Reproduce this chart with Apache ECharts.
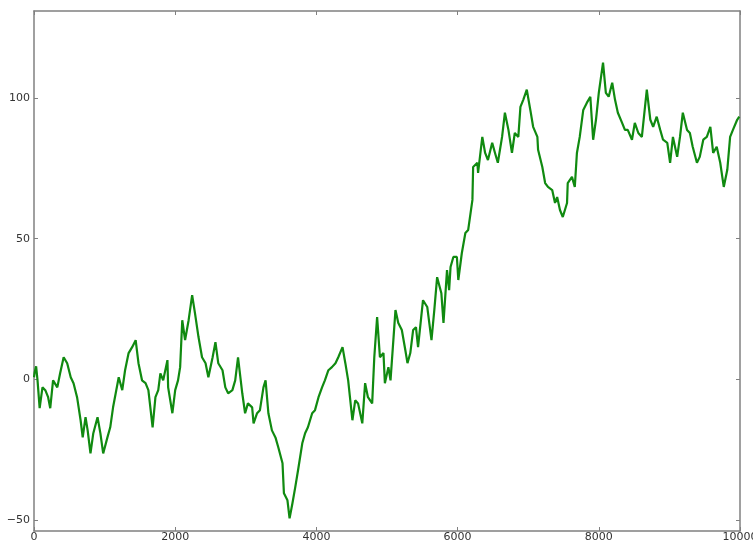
<!DOCTYPE html>
<html>
<head>
<meta charset="utf-8">
<script src="https://cdn.jsdelivr.net/npm/echarts@6/dist/echarts.min.js"></script>
<style>
  html, body { margin: 0; padding: 0; background: #fff; }
  #chart { width: 753px; height: 543px; }
</style>
</head>
<body>
<div id="chart"></div>
<script>
// Step index of the walk
const steps = [0,10,30,50,80,120,160,200,230,270,330,370,420,470,520,560,610,660,690,730,760,800,840,900,940,980,1040,1080,1120,1200,1250,1290,1340,1390,1440,1480,1530,1580,1620,1680,1720,1760,1790,1830,1890,1900,1960,2000,2040,2070,2100,2140,2190,2240,2280,2330,2380,2430,2470,2530,2570,2610,2670,2710,2750,2810,2850,2890,2950,2990,3030,3090,3110,3160,3200,3250,3280,3320,3370,3420,3460,3520,3540,3590,3620,3660,3700,3740,3800,3840,3880,3940,3980,4030,4080,4120,4170,4220,4270,4310,4370,4410,4450,4510,4550,4590,4650,4690,4730,4790,4820,4860,4900,4950,4970,5020,5050,5120,5160,5210,5260,5290,5330,5370,5410,5440,5510,5570,5630,5670,5710,5770,5800,5850,5880,5900,5940,5990,6010,6060,6110,6150,6210,6220,6280,6290,6350,6390,6430,6490,6530,6570,6630,6670,6720,6770,6810,6860,6890,6930,6980,7030,7070,7130,7140,7200,7240,7280,7340,7380,7410,7450,7490,7550,7560,7620,7660,7690,7730,7780,7830,7880,7920,7960,8000,8060,8100,8140,8190,8230,8270,8330,8370,8410,8470,8510,8560,8610,8680,8730,8770,8820,8870,8910,8970,9010,9050,9110,9150,9190,9250,9290,9330,9390,9430,9480,9530,9580,9620,9670,9720,9770,9820,9860,9900,9960,9990];

// Position of the walk at each step
const walk = [0.7,2.5,4.6,-0.4,-10.3,-2.9,-3.9,-6.4,-10.3,-0.4,-2.9,2.1,7.8,5.7,0.7,-1.4,-6.4,-14.6,-20.7,-13.5,-18.2,-26.4,-19.2,-13.5,-19.2,-26.4,-20.7,-17.1,-10.0,0.7,-3.9,3.2,9.3,11.4,13.9,5.7,-0.4,-1.4,-3.9,-17.1,-6.4,-3.9,2.1,-0.4,6.8,-2.9,-12.1,-3.9,-0.4,4.3,21.0,13.9,21.0,29.9,23.5,15.0,7.8,5.7,0.7,7.8,13.2,5.7,3.2,-2.9,-5.0,-3.9,-0.4,7.8,-5.0,-12.1,-8.6,-10.0,-15.7,-12.1,-11.0,-2.9,-0.4,-12.1,-18.2,-20.7,-24.2,-29.9,-40.6,-43.1,-49.5,-44.2,-38.5,-32.4,-22.8,-19.2,-17.1,-12.1,-11.0,-6.4,-2.9,-0.4,3.2,4.3,5.7,7.8,11.4,5.7,-0.4,-14.6,-7.5,-8.6,-15.7,-1.4,-6.4,-8.6,7.8,22.1,7.8,9.3,-1.4,4.3,-0.4,24.6,20.0,17.5,10.3,5.7,9.3,17.5,18.5,11.4,28.1,25.7,13.9,24.6,36.3,30.6,20.0,38.8,31.7,39.9,43.5,43.5,35.3,44.9,52.0,53.1,63.8,75.5,77.0,73.4,86.2,80.5,78.0,84.1,80.5,77.0,86.2,94.8,88.7,80.5,87.6,86.2,96.9,99.4,103.0,95.8,89.8,86.2,81.6,75.5,69.8,68.4,67.3,62.7,64.8,60.2,57.7,62.7,69.8,72.0,68.4,80.5,86.2,95.8,98.3,100.5,85.2,92.3,101.9,112.6,101.9,100.5,105.5,99.4,94.8,91.2,88.7,88.7,85.2,91.2,87.6,86.2,103.0,92.3,89.8,93.4,88.7,85.2,84.1,77.0,86.2,79.1,86.2,94.8,88.7,87.6,82.7,77.0,79.1,85.2,86.2,89.8,80.5,82.7,77.0,68.4,74.5,86.2,88.7,92.3,93.4];

const xTicks = [0, 2000, 4000, 6000, 8000, 10000];
const yTicks = [-50, 0, 50, 100];

const spine = '#808080';
const textStyle = { color: '#333', fontFamily: 'DejaVu Sans', fontSize: 11 };
const fmtX = v => String(v);
const fmtY = v => (v < 0 ? '\u2212' + Math.abs(v) : String(v));

const tickIn = { show: true, inside: true, length: 4, lineStyle: { color: spine } };

const chart = echarts.init(document.getElementById('chart'), null, { renderer: 'canvas' });
chart.setOption({
  animation: false,
  backgroundColor: '#fff',
  grid: { left: 34, right: 13, top: 11, bottom: 12, containLabel: false, outerBoundsMode: 'none' },
  xAxis: [
    {
      type: 'value', min: 0, max: 10000, interval: 2000, position: 'bottom',
      axisLine: { show: true, onZero: false, lineStyle: { color: spine, width: 1.5 } },
      axisTick: Object.assign({ customValues: xTicks }, tickIn),
      axisLabel: Object.assign({ customValues: xTicks, formatter: fmtX, margin: 1 }, textStyle),
      splitLine: { show: false }
    },
    {
      type: 'value', min: 0, max: 10000, interval: 2000, position: 'top',
      axisLine: { show: true, onZero: false, lineStyle: { color: spine, width: 1.5 } },
      axisTick: Object.assign({ customValues: xTicks }, tickIn),
      axisLabel: { show: false },
      splitLine: { show: false }
    }
  ],
  yAxis: [
    {
      type: 'value', min: -54, max: 131, position: 'left',
      axisLine: { show: true, onZero: false, lineStyle: { color: spine, width: 1.5 } },
      axisTick: Object.assign({ customValues: yTicks }, tickIn),
      axisLabel: Object.assign({ customValues: yTicks, formatter: fmtY, margin: 4 }, textStyle),
      splitLine: { show: false }
    },
    {
      type: 'value', min: -54, max: 131, position: 'right',
      axisLine: { show: true, onZero: false, lineStyle: { color: spine, width: 1.5 } },
      axisTick: Object.assign({ customValues: yTicks }, tickIn),
      axisLabel: { show: false },
      splitLine: { show: false }
    }
  ],
  series: [{
    type: 'line',
    xAxisIndex: 0,
    yAxisIndex: 0,
    data: steps.map((s, i) => [s, walk[i]]),
    showSymbol: false,
    sampling: 'none',
    lineStyle: { color: '#108a10', width: 2.2 },
    z: 1
  }]
});
</script>
</body>
</html>
